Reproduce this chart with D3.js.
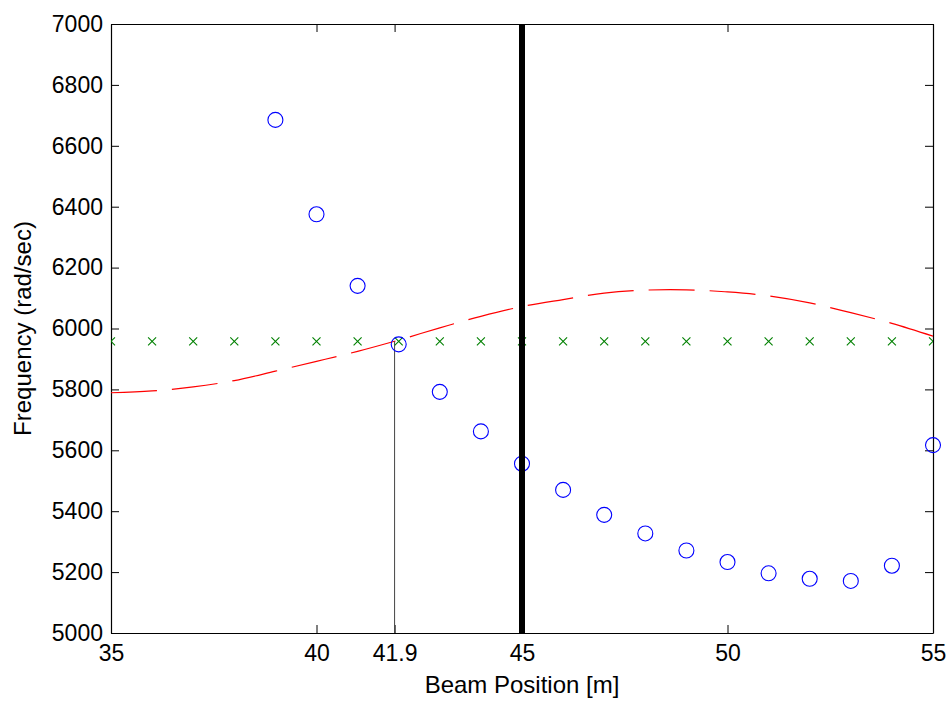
<!DOCTYPE html>
<html>
<head>
<meta charset="utf-8">
<script src="https://cdn.jsdelivr.net/npm/d3@7"></script>
<style>
  html, body { margin: 0; padding: 0; background: #fff; }
  svg text { font-family: "Liberation Sans", Arial, sans-serif; fill: #000; }
</style>
</head>
<body>
<svg id="chart" width="951" height="703"></svg>
<script>
// Beam positions (m) where frequencies were evaluated
const beamPositions = [35, 36, 37, 38, 39, 40, 41, 42, 43, 44, 45, 46, 47, 48, 49, 50, 51, 52, 53, 54, 55];

// Excitation frequency curve (red dashed)
const excitationFreq = [5789, 5795, 5808, 5829, 5860, 5892, 5925, 5962, 6002, 6040, 6072,
                        6095, 6116, 6126, 6127, 6120, 6107, 6084, 6052, 6017, 5975];

// Constant reference frequency (green crosses)
const referenceFreq = [5958, 5958, 5958, 5958, 5958, 5958, 5958, 5958, 5958, 5958, 5958,
                       5958, 5958, 5958, 5958, 5958, 5958, 5958, 5958, 5958, 5958];

// Natural frequency samples (blue circles)
const naturalPos  = [39, 40, 41, 42, 43, 44, 45, 46, 47, 48, 49, 50, 51, 52, 53, 54, 55];
const naturalFreq = [6685, 6375, 6140, 5948, 5792, 5662, 5556, 5470, 5388, 5327, 5271,
                     5233, 5196, 5178, 5171, 5221, 5617];

// Crossing point and current position markers
const crossingPos = 41.9;
const crossingFreq = 5958;
const currentPos = 45;

// Axis ticks
const xTicks = [35, 40, 41.9, 45, 50, 55];
const yTicks = [5000, 5200, 5400, 5600, 5800, 6000, 6200, 6400, 6600, 6800, 7000];

const margin = { left: 111, top: 24, right: 18, bottom: 70 };
const W = 951, H = 703;
const w = W - margin.left - margin.right;   // 822
const h = H - margin.top - margin.bottom;   // 609

const svg = d3.select("#chart");
const g = svg.append("g").attr("transform", `translate(${margin.left},${margin.top})`);

const x = d3.scaleLinear().domain([35, 55]).range([0, w]);
const y = d3.scaleLinear().domain([5000, 7000]).range([h, 0]);

// clip region for plotted data
svg.append("defs").append("clipPath").attr("id", "plotClip")
  .append("rect").attr("x", 0).attr("y", 0).attr("width", w).attr("height", h);

// Axes box with inward ticks on all four sides
const tickLen = 8;
const tickFont = 23;
const titleFont = 24;
const fmtX = d => (Number.isInteger(d) ? d3.format("d")(d) : d3.format(".1f")(d));

const axB = d3.axisBottom(x).tickValues(xTicks).tickSizeInner(-tickLen).tickSizeOuter(0).tickPadding(12).tickFormat(fmtX);
const axT = d3.axisTop(x).tickValues(xTicks).tickSizeInner(-tickLen).tickSizeOuter(0).tickFormat("");
const axL = d3.axisLeft(y).tickValues(yTicks).tickSizeInner(-tickLen).tickSizeOuter(0).tickPadding(8).tickFormat(d3.format("d"));
const axR = d3.axisRight(y).tickValues(yTicks).tickSizeInner(-tickLen).tickSizeOuter(0).tickFormat("");

function styleAxis(sel) {
  sel.select(".domain").attr("stroke", "#000").attr("stroke-width", 1.2);
  sel.selectAll(".tick line").attr("stroke", "#000").attr("stroke-width", 1);
  sel.selectAll(".tick text").attr("font-size", tickFont).attr("fill", "#000")
     .style("font-family", '"Liberation Sans", Arial, sans-serif');
}

g.append("g").attr("transform", `translate(0,${h})`).call(axB).call(styleAxis);
g.append("g").call(axT).call(styleAxis);
g.append("g").call(axL).call(styleAxis);
g.append("g").attr("transform", `translate(${w},0)`).call(axR).call(styleAxis);

const plot = g.append("g").attr("clip-path", "url(#plotClip)");

// Red dashed excitation curve
const line = d3.line()
  .x((d, i) => x(beamPositions[i]))
  .y(d => y(d))
  .curve(d3.curveCatmullRom.alpha(0.5));

plot.append("path")
  .datum(excitationFreq)
  .attr("d", line)
  .attr("fill", "none")
  .attr("stroke", "#ff0000")
  .attr("stroke-width", 1.2)
  .attr("stroke-dasharray", "46,15");

// Thin vertical line at the crossing position
plot.append("line")
  .attr("x1", x(crossingPos)).attr("x2", x(crossingPos))
  .attr("y1", y(5000)).attr("y2", y(crossingFreq))
  .attr("stroke", "#444").attr("stroke-width", 1);

// Green cross markers
const cs = 4;
plot.append("g").selectAll("path")
  .data(referenceFreq)
  .join("path")
  .attr("d", (d, i) => {
    const cx = x(beamPositions[i]), cy = y(d);
    return `M${cx - cs},${cy - cs}L${cx + cs},${cy + cs}M${cx - cs},${cy + cs}L${cx + cs},${cy - cs}`;
  })
  .attr("stroke", "#008000")
  .attr("stroke-width", 1.1)
  .attr("fill", "none");

// Blue circle markers (not clipped so edge markers stay whole)
g.append("g").selectAll("circle")
  .data(naturalFreq)
  .join("circle")
  .attr("cx", (d, i) => x(naturalPos[i]))
  .attr("cy", d => y(d))
  .attr("r", 7.5)
  .attr("fill", "none")
  .attr("stroke", "#0000ff")
  .attr("stroke-width", 1.1);

// Thick black line at the current position
g.append("line")
  .attr("x1", x(currentPos)).attr("x2", x(currentPos))
  .attr("y1", 0).attr("y2", h)
  .attr("stroke", "#000").attr("stroke-width", 6);

// Axis titles
svg.append("text")
  .attr("x", margin.left + w / 2)
  .attr("y", 693)
  .attr("text-anchor", "middle")
  .attr("font-size", titleFont)
  .text("Beam Position [m]");

svg.append("text")
  .attr("transform", `translate(31,${margin.top + h / 2}) rotate(-90)`)
  .attr("text-anchor", "middle")
  .attr("font-size", titleFont)
  .text("Frequency (rad/sec)");
</script>
</body>
</html>
